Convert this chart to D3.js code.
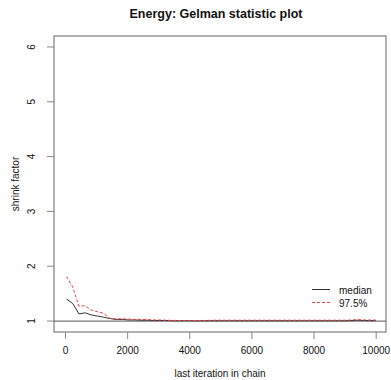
<!DOCTYPE html>
<html>
<head>
<meta charset="utf-8">
<script src="https://cdn.jsdelivr.net/npm/d3@7"></script>
<style>
  html, body { margin: 0; padding: 0; background: #fff; }
  svg { display: block; }
  text { font-family: "Liberation Sans", Arial, sans-serif; fill: #111; }
</style>
</head>
<body>
<svg id="chart" width="391" height="380"></svg>
<script>
// Last iteration of each bin in the chain
const iterations = [51, 250, 449, 648, 847, 1046, 1245, 1444, 1643, 1842,
  2041, 2240, 2439, 2638, 2837, 3036, 3235, 3434, 3633, 3832,
  4031, 4230, 4429, 4628, 4827, 5026, 5225, 5424, 5623, 5822,
  6021, 6220, 6419, 6618, 6817, 7016, 7215, 7414, 7613, 7812,
  8011, 8210, 8409, 8608, 8807, 9006, 9205, 9404, 9603, 9802, 10000];

// Shrink factor, median
const medianValues = [1.40, 1.32, 1.13, 1.15, 1.11, 1.09, 1.07, 1.045, 1.03, 1.03,
  1.02, 1.02, 1.015, 1.015, 1.01, 1.01, 1.01, 1.005, 1.005, 1.005,
  1.005, 1.005, 1.005, 1.005, 1.005, 1.005, 1.005, 1.005, 1.005, 1.005,
  1.005, 1.005, 1.005, 1.005, 1.005, 1.005, 1.005, 1.005, 1.005, 1.005,
  1.005, 1.005, 1.005, 1.005, 1.005, 1.005, 1.008, 1.015, 1.01, 1.008, 1.008];

// Shrink factor, 97.5% quantile
const upperValues = [1.81, 1.62, 1.27, 1.28, 1.20, 1.17, 1.14, 1.05, 1.04, 1.04,
  1.035, 1.03, 1.03, 1.025, 1.02, 1.02, 1.015, 1.012, 1.01, 1.01,
  1.01, 1.01, 1.01, 1.012, 1.015, 1.015, 1.015, 1.015, 1.015, 1.015,
  1.015, 1.015, 1.015, 1.015, 1.015, 1.015, 1.015, 1.015, 1.015, 1.015,
  1.015, 1.015, 1.015, 1.015, 1.015, 1.015, 1.018, 1.025, 1.02, 1.018, 1.018];

const xTicks = [0, 2000, 4000, 6000, 8000, 10000];
const yTicks = [1, 2, 3, 4, 5, 6];
const legendLabels = ["median", "97.5%"];

const svg = d3.select("#chart");
const box = { left: 54, right: 386, top: 36, bottom: 332 };

const x = d3.scaleLinear().domain([-354, 10332]).range([box.left, box.right]);
const y = d3.scaleLinear().domain([0.8, 6.2]).range([box.bottom, box.top]);

// Title
svg.append("text")
  .attr("x", 216).attr("y", 18)
  .attr("text-anchor", "middle")
  .style("font-size", "12.5px").style("font-weight", "bold")
  .text("Energy: Gelman statistic plot");

// Reference line at 1
svg.append("line")
  .attr("x1", box.left).attr("x2", box.right)
  .attr("y1", y(1)).attr("y2", y(1))
  .attr("stroke", "#777").attr("stroke-width", 1.3);

// Series lines
const line = vals => d3.line()
  .x((d, i) => x(iterations[i]))
  .y(d => y(d))(vals);

svg.append("path")
  .attr("d", line(medianValues))
  .attr("fill", "none").attr("stroke", "#333").attr("stroke-width", 1);

svg.append("path")
  .attr("d", line(upperValues))
  .attr("fill", "none").attr("stroke", "#f04040").attr("stroke-width", 1)
  .attr("stroke-dasharray", "3,2");

// Plot frame
svg.append("rect")
  .attr("x", box.left).attr("y", box.top)
  .attr("width", box.right - box.left).attr("height", box.bottom - box.top)
  .attr("fill", "none").attr("stroke", "#666").attr("stroke-width", 1);

// X axis
const xAxis = svg.append("g")
  .attr("transform", `translate(0,${box.bottom})`)
  .call(d3.axisBottom(x).tickValues(xTicks).tickSize(7).tickPadding(8).tickFormat(d3.format("d")));
xAxis.select(".domain").remove();
xAxis.selectAll("line").attr("stroke", "#888");
xAxis.selectAll("text").style("font-size", "10px").attr("font-family", null).style("fill", "#111");

// Y axis
const yAxis = svg.append("g")
  .attr("transform", `translate(${box.left},0)`)
  .call(d3.axisLeft(y).tickValues(yTicks).tickSize(7).tickFormat(d3.format("d")));
yAxis.select(".domain").remove();
yAxis.selectAll(".tick").attr("transform", null);
yAxis.selectAll(".tick line")
  .attr("stroke", "#888")
  .attr("y1", d => y(d)).attr("y2", d => y(d)).attr("x1", -7).attr("x2", 0);
yAxis.selectAll(".tick text")
  .attr("x", null).attr("y", null).attr("dy", null)
  .attr("text-anchor", "middle")
  .attr("transform", d => `translate(-19,${y(d)}) rotate(-90)`)
  .style("font-size", "10px").attr("font-family", null).style("fill", "#111");

// Axis titles
svg.append("text")
  .attr("x", 220).attr("y", 377)
  .attr("text-anchor", "middle")
  .style("font-size", "10px")
  .text("last iteration in chain");

svg.append("text")
  .attr("transform", `translate(19,${(box.top + box.bottom) / 2}) rotate(-90)`)
  .attr("text-anchor", "middle")
  .style("font-size", "10px")
  .text("shrink factor");

// Legend
const legend = svg.append("g");
const legendStyles = [
  { stroke: "#333", dash: null },
  { stroke: "#f04040", dash: "3,2" }
];
legendLabels.forEach((lab, i) => {
  const cy = 289.5 + i * 13;
  legend.append("line")
    .attr("x1", 312).attr("x2", 330).attr("y1", cy).attr("y2", cy)
    .attr("stroke", legendStyles[i].stroke).attr("stroke-width", 1)
    .attr("stroke-dasharray", legendStyles[i].dash);
  legend.append("text")
    .attr("x", 339).attr("y", cy + 4)
    .style("font-size", "10px")
    .text(lab);
});
</script>
</body>
</html>
